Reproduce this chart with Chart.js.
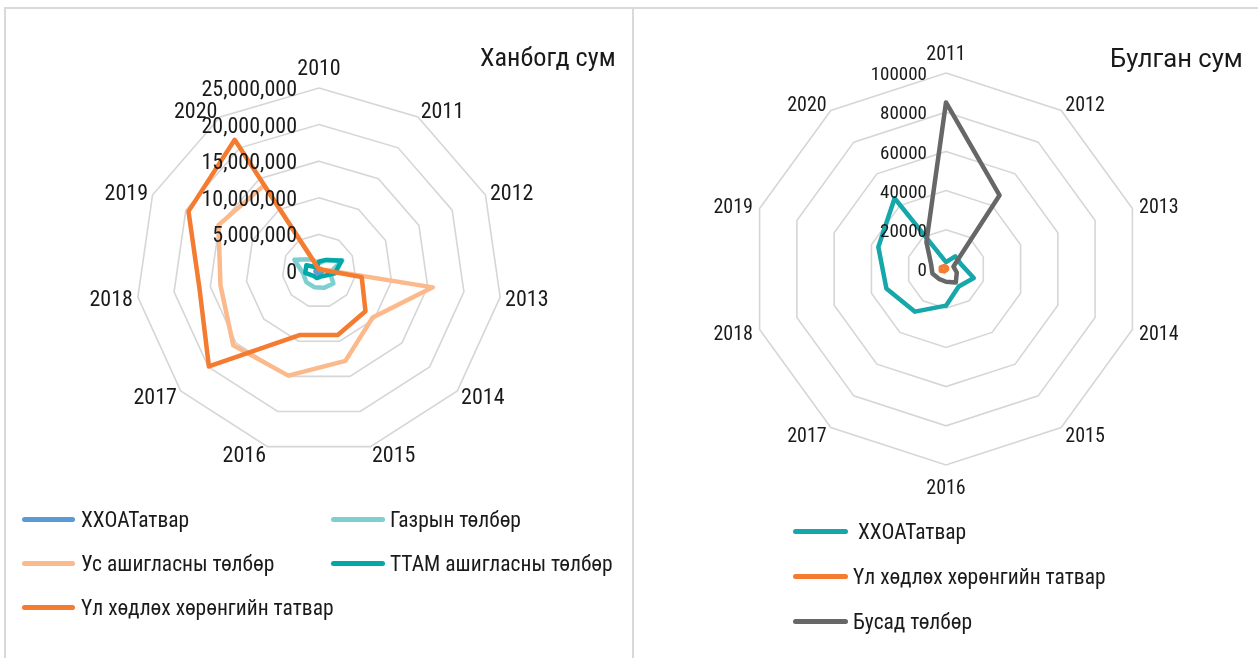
<!DOCTYPE html>
<html>
<head>
<meta charset="utf-8">
<script src="https://cdn.jsdelivr.net/npm/chart.js@4.4.1/dist/chart.umd.min.js"></script>
<style>
  html, body { margin: 0; padding: 0; background: #fff; }
  body { width: 1258px; height: 658px; position: relative; overflow: hidden;
         font-family: 'Liberation Sans Narrow', 'Roboto Condensed', 'DejaVu Sans Condensed', 'Arial Narrow', sans-serif; color: #1a1a1a; }
  .panel { position: absolute; top: 7px; height: 700px; box-sizing: border-box; border-top: 2px solid #d9d9d9; }
  .box { position: absolute; }
  .title { position: absolute; white-space: nowrap; line-height: 1; }
  .legend { position: absolute; left: 0; top: 0; }
  .item { position: absolute; display: flex; align-items: center; white-space: nowrap; font-size: 21.5px; line-height: 1; }
  .sw { height: 5px; border-radius: 3px; display: inline-block; }
</style>
</head>
<body>
<div class="panel" style="left:4px;width:630px;border-left:2px solid #d9d9d9;border-right:2px solid #d9d9d9;"></div>
<div class="panel" style="left:634px;width:624px;"></div>

<div class="box" style="left:0;top:0;width:631px;height:658px;"><canvas id="hanbogd"></canvas></div>
<div class="box" style="left:634px;top:0;width:624px;height:658px;"><canvas id="bulgan"></canvas></div>

<div class="title" style="left:480px;top:44px;font-size:26.3px;">Ханбогд сум</div>
<div class="title" style="left:1110px;top:46px;font-size:25.6px;font-family:Roboto,'Noto Sans',sans-serif;">Булган сум</div>

<div id="legendLeft" class="legend"></div>
<div id="legendRight" class="legend"></div>

<script>
// Ханбогд сум
const hanbogdYears = ["2010", "2011", "2012", "2013", "2014", "2015", "2016", "2017", "2018", "2019", "2020"];
const hanbogdTicks = [0, 5000000, 10000000, 15000000, 20000000, 25000000];
const hanbogdXXOAT = [300000, 350000, 400000, 450000, 400000, 350000, 350000, 400000, 500000, 450000, 350000];
const hanbogdGazar = [1050000, 1800000, 3500000, 1500000, 2600000, 2400000, 2300000, 2300000, 2200000, 3700000, 1900000];
const hanbogdUs = [300000, 400000, 500000, 15700000, 9700000, 12800000, 14900000, 15500000, 13600000, 15100000, 13900000];
const hanbogdTTAM = [1300000, 1800000, 3400000, 2200000, 1000000, 800000, 1000000, 1000000, 1900000, 1900000, 600000];
const hanbogdUl = [200000, 300000, 400000, 5900000, 8400000, 9100000, 9100000, 19900000, 16500000, 19600000, 21300000];

// Булган сум
const bulganYears = ["2011", "2012", "2013", "2014", "2015", "2016", "2017", "2018", "2019", "2020"];
const bulganTicks = [0, 20000, 40000, 60000, 80000, 100000];
const bulganXXOAT = [3500, 8000, 8000, 14900, 11000, 18700, 26900, 32000, 36300, 44600];
const bulganUl = [1200, 800, 600, 500, 500, 600, 1500, 2800, 2800, 1800];
const bulganBusad = [85000, 46500, 4000, 5800, 8500, 6500, 6200, 7300, 8000, 17000];

const narrow = "'Liberation Sans Narrow', 'Roboto Condensed', 'DejaVu Sans Condensed', 'Arial Narrow', sans-serif";

// тэнхлэгийн тоо болон оны нэрийг Excel шиг байрлуулж зурна
const radarText = {
  id: "radarText",
  afterDatasetsDraw(chart, args, opts) {
    const r = chart.scales.r;
    const ctx = chart.ctx;
    const dy = opts.dy;
    ctx.save();
    ctx.fillStyle = "#1a1a1a";
    ctx.textBaseline = "middle";

    // тэнхлэгийн тоонууд
    ctx.font = opts.tickSize + "px " + narrow;
    ctx.textAlign = "right";
    opts.values.forEach((v) => {
      const d = r.getDistanceFromCenterForValue(v);
      ctx.fillText(opts.format(v), r.xCenter - opts.tickOffset, r.yCenter - d + dy);
    });

    // онууд
    ctx.font = opts.labelSize + "px " + narrow;
    chart.data.labels.forEach((label, i) => {
      const a = r.getIndexAngle(i);
      const s = Math.sin(a);
      const c = Math.cos(a);
      if (Math.abs(s) < 0.2) {
        const p = r.getPointPosition(i, r.drawingArea + opts.endGap);
        ctx.textAlign = "center";
        ctx.fillText(label, p.x, p.y + dy);
      } else {
        const p = r.getPointPosition(i, r.drawingArea + opts.sideGap);
        ctx.textAlign = s > 0 ? "left" : "right";
        ctx.fillText(label, p.x, p.y - c * opts.lift + dy);
      }
    });
    ctx.restore();
  },
};

function line(label, data, color, order) {
  return {
    label: label,
    data: data,
    borderColor: color,
    backgroundColor: color,
    fill: false,
    borderWidth: 4.5,
    borderJoinStyle: "round",
    pointRadius: 0,
    order: order,
  };
}

function radarOptions(ticks, text, padding) {
  return {
    responsive: true,
    maintainAspectRatio: false,
    animation: false,
    layout: { padding: padding },
    plugins: {
      legend: { display: false },
      tooltip: { enabled: false },
      radarText: Object.assign({ values: ticks }, text),
    },
    scales: {
      r: {
        min: ticks[0],
        max: ticks[ticks.length - 1],
        ticks: { display: false, stepSize: ticks[1] - ticks[0] },
        grid: { color: "#d6d6d6", lineWidth: 1.6 },
        angleLines: { display: false },
        pointLabels: { display: false },
      },
    },
  };
}

const leftSets = [
  line("ХХОАТатвар", hanbogdXXOAT, "#5b9bd5", 5),
  line("Газрын төлбөр", hanbogdGazar, "#7ecfd1", 4),
  line("Ус ашигласны төлбөр", hanbogdUs, "#fcb98b", 3),
  line("ТТАМ ашигласны төлбөр", hanbogdTTAM, "#00a8a8", 2),
  line("Үл хөдлөх хөрөнгийн татвар", hanbogdUl, "#f47b30", 1),
];

const rightSets = [
  line("ХХОАТатвар", bulganXXOAT, "#16a7aa", 3),
  line("Үл хөдлөх хөрөнгийн татвар", bulganUl, "#f47b30", 2),
  line("Бусад төлбөр", bulganBusad, "#676767", 1),
];

new Chart(document.getElementById("hanbogd"), {
  type: "radar",
  data: { labels: hanbogdYears, datasets: leftSets },
  options: radarOptions(hanbogdTicks, {
    tickSize: 22, tickOffset: 22, labelSize: 22, endGap: 21, sideGap: 5, lift: 3, dy: 2.5,
    format: (v) => v.toLocaleString("en-US"),
  }, { left: 136, right: 129, top: 88, bottom: 204 }),
  plugins: [radarText],
});

new Chart(document.getElementById("bulgan"), {
  type: "radar",
  data: { labels: bulganYears, datasets: rightSets },
  options: radarOptions(bulganTicks, {
    tickSize: 19, tickOffset: 19, labelSize: 20, endGap: 21, sideGap: 7, lift: 1, dy: 2.5,
    format: (v) => String(v),
  }, { left: 116, right: 116, top: 73, bottom: 193 }),
  plugins: [radarText],
});

// HTML тайлбар
function legend(el, sets, spots) {
  sets.forEach((ds, i) => {
    const s = spots[i];
    const item = document.createElement("div");
    item.className = "item";
    item.style.left = s.x + "px";
    item.style.top = s.y - 11 + "px";
    item.innerHTML = '<span class="sw" style="width:' + s.w + "px;background:" + ds.borderColor +
      ';margin-right:' + s.gap + 'px"></span><span>' + ds.label + "</span>";
    el.appendChild(item);
  });
}

legend(document.getElementById("legendLeft"), leftSets, [
  { x: 22, y: 520, w: 53, gap: 6 },
  { x: 331, y: 520, w: 54, gap: 5 },
  { x: 22, y: 564, w: 53, gap: 6 },
  { x: 331, y: 564, w: 54, gap: 5 },
  { x: 22, y: 608, w: 53, gap: 6 },
]);
legend(document.getElementById("legendRight"), rightSets, [
  { x: 793, y: 532, w: 55, gap: 10 },
  { x: 793, y: 577, w: 55, gap: 5 },
  { x: 793, y: 622, w: 55, gap: 5 },
]);
</script>
</body>
</html>
